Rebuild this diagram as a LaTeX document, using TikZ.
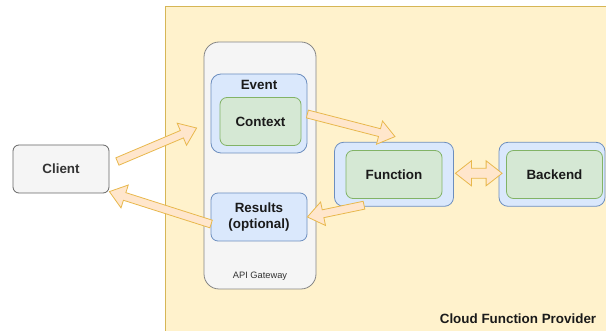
\documentclass[tikz,border=0pt]{standalone}
\usepackage{fontspec}
\setmainfont{Liberation Sans}
\usetikzlibrary{calc}

\definecolor{provfill}{HTML}{FFF2CC}
\definecolor{provline}{HTML}{D6B656}
\definecolor{grayfill}{HTML}{F5F5F5}
\definecolor{grayline}{HTML}{666666}
\definecolor{graytext}{HTML}{333333}
\definecolor{bluefill}{HTML}{DAE8FC}
\definecolor{blueline}{HTML}{6C8EBF}
\definecolor{greenfill}{HTML}{D5E8D4}
\definecolor{greenline}{HTML}{82B366}
\definecolor{arrowfill}{HTML}{FFE6CC}
\definecolor{arrowline}{HTML}{E8B84C}
\definecolor{textdark}{HTML}{1A1A1A}

% flat block arrow from #1 to #2 (shaft half width #3, head half width #4, head length #5)
\newcommand\blockarrow[5]{%
  \coordinate (ah) at ($(#2)!#5!(#1)$);
  \draw[flexarrow]
    ($(#1)!#3!90:(#2)$) -- ($(ah)!#3!90:(#2)$) -- ($(ah)!#4!90:(#2)$) -- (#2)
    -- ($(ah)!#4!-90:(#2)$) -- ($(ah)!#3!-90:(#2)$) -- ($(#1)!#3!-90:(#2)$) -- cycle;
}
% block arrow with heads at both ends
\newcommand\blockarrowboth[5]{%
  \coordinate (ha) at ($(#1)!#5!(#2)$);
  \coordinate (hb) at ($(#2)!#5!(#1)$);
  \draw[flexarrow]
    (#1) -- ($(ha)!#4!90:(#2)$) -- ($(ha)!#3!90:(#2)$) -- ($(hb)!#3!90:(#2)$)
    -- ($(hb)!#4!90:(#2)$) -- (#2) -- ($(hb)!#4!-90:(#2)$) -- ($(hb)!#3!-90:(#2)$)
    -- ($(ha)!#3!-90:(#2)$) -- ($(ha)!#4!-90:(#2)$) -- cycle;
}

\begin{document}
\begin{tikzpicture}[x=1pt,y=-1pt,
  box/.style={draw, line width=0.8pt, inner sep=0pt, font=\fontsize{13.4}{15.5}\selectfont\bfseries, text=textdark},
  graybox/.style={box, fill=grayfill, draw=grayline, rounded corners=6pt, text=graytext},
  bluebox/.style={box, fill=bluefill, draw=blueline},
  greenbox/.style={box, fill=greenfill, draw=greenline, rounded corners=7pt},
  flexarrow/.style={fill=arrowfill, draw=arrowline, line width=0.8pt, line join=miter},
]
\useasboundingbox (0,0) rectangle (606,331);
\clip (0,0) rectangle (606,331);
\fill[white] (0,0) rectangle (606,331);

% provider area
\draw[fill=provfill, draw=provline, line width=0.8pt] (165,6) rectangle (620,345);
\node[font=\fontsize{13.4}{15}\selectfont\bfseries, text=textdark] (provider) at (518,319) {Cloud Function Provider};

% client
\node[graybox, minimum width=96pt, minimum height=48pt] (client) at (61,169) {Client};

% API gateway
\node[box, fill=grayfill, draw=grayline!80, rounded corners=15pt, minimum width=112pt, minimum height=247pt] (gateway) at (260,165.5) {};
\node[font=\fontsize{9.3}{11}\selectfont, text=graytext] (gwlabel) at (260,276) {API Gateway};

\node[bluebox, rounded corners=10pt, minimum width=96pt, minimum height=79pt] (event) at (259,113.5) {};
\node[font=\fontsize{13.4}{15}\selectfont\bfseries, text=textdark] (eventlabel) at (259,85) {Event};
\node[greenbox, minimum width=81pt, minimum height=48pt] (context) at (260.5,121.5) {Context};

\node[bluebox, rounded corners=7pt, minimum width=96pt, minimum height=48pt, align=center] (results) at (259,217) {Results\\(optional)};

% function
\node[bluebox, rounded corners=9pt, minimum width=119pt, minimum height=64pt] (funcouter) at (394,174.3) {};
\node[greenbox, minimum width=96pt, minimum height=48pt] (function) at (394,174.5) {Function};

% backend
\node[bluebox, rounded corners=9pt, minimum width=106pt, minimum height=64pt] (backouter) at (552,174.3) {};
\node[greenbox, minimum width=96pt, minimum height=48pt] (backend) at (554.5,174.5) {Backend};

% arrow end points
\coordinate (c1) at ($(client.east)+(8,-7.5)$);
\coordinate (e1) at ($(event.west)+(-14,14.5)$);
\coordinate (c2) at ($(context.east)+(6,-7.5)$);
\coordinate (f1) at ($(funcouter.north)+(1,-5.3)$);
\coordinate (f2) at ($(funcouter.south)+(-30,-1.5)$);
\coordinate (r1) at ($(results.east)+(0,0)$);
\coordinate (r2) at ($(results.west)+(0.5,7)$);
\coordinate (c3) at ($(client.north east)+(0,47)$);
\coordinate (d1) at ($(funcouter.east)+(1.5,-1)$);
\coordinate (d2) at ($(backouter.west)+(3.5,-1)$);

\blockarrow{c1}{e1}{4pt}{12pt}{16pt}
\blockarrow{c2}{f1}{4pt}{12pt}{16pt}
\blockarrow{f2}{r1}{4pt}{12pt}{16pt}
\blockarrow{r2}{c3}{4pt}{12pt}{16pt}
\blockarrowboth{d1}{d2}{5pt}{12.5pt}{16pt}
\end{tikzpicture}
\end{document}
